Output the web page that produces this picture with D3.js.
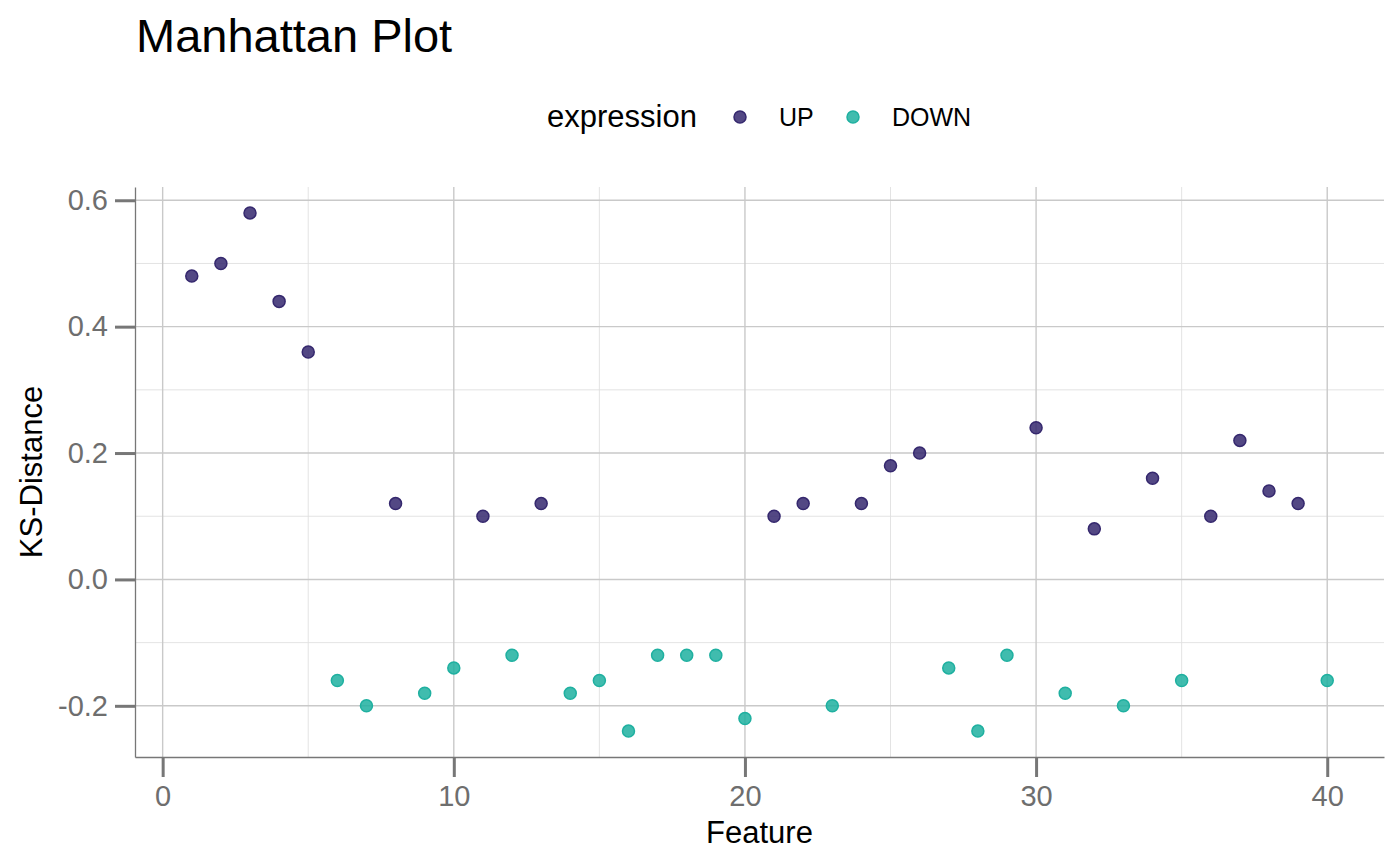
<!DOCTYPE html>
<meta charset="utf-8">
<style>
  body { margin: 0; background: #fff; }
  svg { font-family: "Liberation Sans", Arial, sans-serif; }
</style>
<svg width="1400" height="866"></svg>
<script src="https://d3js.org/d3.v7.min.js"></script>
<script>

// feature index, KS distance, expression group
var features = d3.range(1, 41);
var ksDistance = [0.48, 0.50, 0.58, 0.44, 0.36, -0.16, -0.20, 0.12, -0.18, -0.14,
                  0.10, -0.12, 0.12, -0.18, -0.16, -0.24, -0.12, -0.12, -0.12, -0.22,
                  0.10, 0.12, -0.20, 0.12, 0.18, 0.20, -0.14, -0.24, -0.12, 0.24,
                  -0.18, 0.08, -0.20, 0.16, -0.16, 0.10, 0.22, 0.14, 0.12, -0.16];
var groups = ["UP", "DOWN"];
var xTicks = [0, 10, 20, 30, 40];
var yTicks = [-0.2, 0.0, 0.2, 0.4, 0.6];

var data = features.map(function(f, i) {
  return { feature: f, ks: ksDistance[i], expression: ksDistance[i] > 0 ? "UP" : "DOWN" };
});

var svg = d3.select("svg"),
    margin = { top: 187, right: 16, bottom: 109, left: 135 },
    width = +svg.attr("width") - margin.left - margin.right,
    height = +svg.attr("height") - margin.top - margin.bottom;

// ggplot style 5% expansion
var xExt = d3.extent(data, function(d) { return d.feature; }),
    yExt = d3.extent(data, function(d) { return d.ks; }),
    xPad = (xExt[1] - xExt[0]) * 0.05,
    yPad = (yExt[1] - yExt[0]) * 0.05;

var x = d3.scaleLinear()
    .domain([xExt[0] - xPad, xExt[1] + xPad])
    .range([0, width]);

var y = d3.scaleLinear()
    .domain([yExt[0] - yPad, yExt[1] + yPad])
    .range([height, 0]);

var color = d3.scaleOrdinal()
    .domain(groups)
    .range(["#35286e", "#1fb0a0"]);

var g = svg.append("g")
    .attr("transform", "translate(" + margin.left + "," + margin.top + ")");

// minor grid
var xMinor = xTicks.slice(0, -1).map(function(t, i) { return (t + xTicks[i + 1]) / 2; });
var yMinor = yTicks.slice(0, -1).map(function(t, i) { return (t + yTicks[i + 1]) / 2; });
yMinor.push(-0.3, 0.7);
yMinor = yMinor.filter(function(v) { return v > y.domain()[0] && v < y.domain()[1]; });

g.append("g").selectAll("line")
    .data(xMinor)
    .join("line")
    .attr("x1", x).attr("x2", x)
    .attr("y1", 0).attr("y2", height)
    .attr("stroke", "#e0e0e0").attr("stroke-width", 0.9);

g.append("g").selectAll("line")
    .data(yMinor)
    .join("line")
    .attr("y1", y).attr("y2", y)
    .attr("x1", 0).attr("x2", width)
    .attr("stroke", "#e0e0e0").attr("stroke-width", 0.9);

// major grid
g.append("g").selectAll("line")
    .data(xTicks)
    .join("line")
    .attr("x1", x).attr("x2", x)
    .attr("y1", 0).attr("y2", height)
    .attr("stroke", "#c9c9c9").attr("stroke-width", 1.4);

g.append("g").selectAll("line")
    .data(yTicks)
    .join("line")
    .attr("y1", y).attr("y2", y)
    .attr("x1", 0).attr("x2", width)
    .attr("stroke", "#c9c9c9").attr("stroke-width", 1.4);

// axes
var fmtY = function(d) { return d3.format(".1f")(d).replace("\u2212", "-"); };

var xAxis = g.append("g")
    .attr("transform", "translate(0," + height + ")")
    .call(d3.axisBottom(x).tickValues(xTicks).tickSize(20).tickSizeOuter(0).tickPadding(8).tickFormat(d3.format("d")));

var yAxis = g.append("g")
    .call(d3.axisLeft(y).tickValues(yTicks).tickSize(20).tickSizeOuter(0).tickPadding(7).tickFormat(fmtY));

[xAxis, yAxis].forEach(function(a) {
  a.select(".domain").attr("stroke", "#777").attr("stroke-width", 1.3);
  a.selectAll(".tick line").attr("stroke", "#777").attr("stroke-width", 3);
  a.selectAll(".tick text").attr("fill", "#6e6e6e").style("font-size", "29px")
    .style("font-family", "'Liberation Sans', Arial, sans-serif");
});

// points
g.append("g").selectAll("circle")
    .data(data)
    .join("circle")
    .attr("cx", function(d) { return x(d.feature); })
    .attr("cy", function(d) { return y(d.ks); })
    .attr("r", 6)
    .attr("fill", function(d) { return color(d.expression); })
    .attr("fill-opacity", 0.85)
    .attr("stroke", function(d) { return color(d.expression); })
    .attr("stroke-width", 1.5);

// axis titles
svg.append("text")
    .attr("x", margin.left + width / 2)
    .attr("y", 843)
    .attr("text-anchor", "middle")
    .style("font-size", "31px")
    .text("Feature");

svg.append("text")
    .attr("transform", "translate(42," + (margin.top + height / 2) + ")rotate(-90)")
    .attr("text-anchor", "middle")
    .style("font-size", "31px")
    .text("KS-Distance");

// title
svg.append("text")
    .attr("x", 136)
    .attr("y", 52)
    .style("font-size", "47px")
    .text("Manhattan Plot");

// legend
var legend = svg.append("g");
legend.append("text")
    .attr("x", 547)
    .attr("y", 127)
    .style("font-size", "31px")
    .text("expression");

var legendPos = [740, 853];
var item = legend.selectAll("g")
    .data(groups)
    .join("g")
    .attr("transform", function(d, i) { return "translate(" + legendPos[i] + ",117)"; });

item.append("circle")
    .attr("r", 6)
    .attr("fill", color)
    .attr("fill-opacity", 0.85)
    .attr("stroke", color)
    .attr("stroke-width", 1.5);

item.append("text")
    .attr("x", 39)
    .attr("y", 9)
    .style("font-size", "25px")
    .text(function(d) { return d; });

</script>
